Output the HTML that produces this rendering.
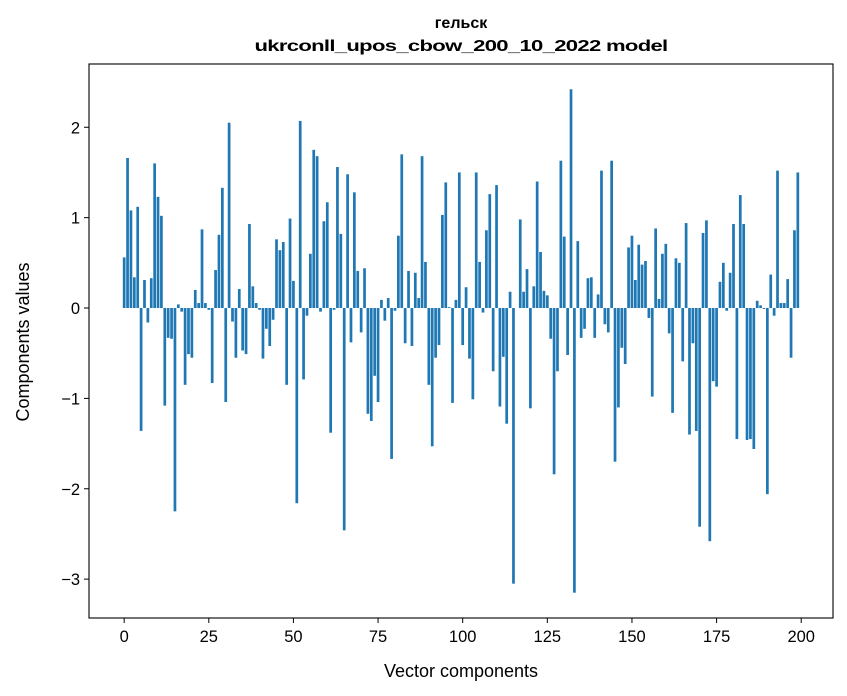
<!DOCTYPE html>
<html><head><meta charset="utf-8"><style>
html,body{margin:0;padding:0;background:#fff;}
svg{display:block;font-family:"Liberation Sans","DejaVu Sans",sans-serif;}
</style></head><body>
<svg id="chart" width="847" height="696" viewBox="0 0 847 696">
<rect width="847" height="696" fill="#fff"/>
<text x="461" y="28" text-anchor="middle" font-size="16" font-weight="bold">гельск</text>
<text x="461" y="51" text-anchor="middle" font-size="16" font-weight="bold" textLength="413" lengthAdjust="spacingAndGlyphs" style="letter-spacing:-0.5px">ukrconll_upos_cbow_200_10_2022 model</text>
<g id="bars"></g>
<g id="xticks"></g>
<g id="yticks"></g>
<rect x="89" y="64" width="744" height="554" fill="none" stroke="#000" stroke-width="1.1"/>
<text x="461" y="677" text-anchor="middle" font-size="18">Vector components</text>
<text transform="translate(29,342) rotate(-90)" text-anchor="middle" font-size="18">Components values</text>
</svg>
<script>
const values = [0.56,1.66,1.08,0.34,1.12,-1.36,0.31,-0.16,0.33,1.60,1.23,1.02,-1.08,-0.33,-0.34,-2.25,0.04,-0.04,-0.85,-0.51,
-0.55,0.20,0.055,0.87,0.055,-0.02,-0.83,0.42,0.81,1.33,-1.04,2.05,-0.15,-0.55,0.21,-0.47,-0.51,0.93,0.24,0.055,
-0.02,-0.56,-0.23,-0.42,-0.13,0.76,0.64,0.73,-0.85,0.99,0.30,-2.16,2.07,-0.79,-0.085,0.60,1.75,1.68,-0.04,0.96,
1.17,-1.38,-0.02,1.56,0.82,-2.46,1.48,-0.38,1.28,0.41,-0.27,0.44,-1.17,-1.25,-0.75,-1.04,0.09,-0.14,0.11,-1.67,
-0.03,0.80,1.70,-0.39,0.41,-0.42,0.39,0.11,1.68,0.51,-0.85,-1.53,-0.55,-0.41,1.03,1.39,0.01,-1.05,0.09,1.50,
-0.41,0.23,-0.56,-1.01,1.50,0.51,-0.05,0.86,1.26,-0.70,1.36,-1.09,-0.54,-1.28,0.18,-3.05,0.0,0.98,0.18,0.43,
-1.11,0.24,1.40,0.62,0.19,0.14,-0.34,-1.84,-0.70,1.63,0.79,-0.52,2.42,-3.15,0.74,-0.33,-0.23,0.33,0.34,-0.33,
0.15,1.52,-0.18,-0.27,1.63,-1.70,-1.10,-0.44,-0.62,0.67,0.80,0.31,0.70,0.48,0.52,-0.11,-0.98,0.88,0.10,0.60,
0.71,-0.28,-1.16,0.55,0.50,-0.59,0.94,-1.40,-0.39,-1.36,-2.42,0.83,0.97,-2.58,-0.81,-0.87,0.29,0.50,-0.03,0.39,
0.93,-1.45,1.25,0.93,-1.46,-1.45,-1.56,0.08,0.03,-0.01,-2.06,0.37,-0.085,1.52,0.055,0.055,0.32,-0.55,0.86,1.50];
const xTicks = [0,25,50,75,100,125,150,175,200];
const yTicks = [-3,-2,-1,0,1,2];
const yTickLabels = ["\u22123","\u22122","\u22121","0","1","2"];

const NS = "http://www.w3.org/2000/svg";
const PL = 89, PR = 833, PT = 64, PB = 618;
const xMin = -10.39, xMax = 209.39, yMin = -3.43, yMax = 2.70;
const xs = v => PL + (v - xMin) / (xMax - xMin) * (PR - PL);
const ys = v => PB - (v - yMin) / (yMax - yMin) * (PB - PT);

const gb = document.getElementById('bars');
values.forEach((v, i) => {
  const r = document.createElementNS(NS, 'rect');
  const x0 = xs(i - 0.4), x1 = xs(i + 0.4);
  const y0 = ys(Math.max(v, 0)), y1 = ys(Math.min(v, 0));
  r.setAttribute('x', x0);
  r.setAttribute('width', x1 - x0);
  r.setAttribute('y', y0);
  r.setAttribute('height', Math.max(y1 - y0, 0));
  r.setAttribute('fill', '#1f77b4');
  
  
  gb.appendChild(r);
});

const gx = document.getElementById('xticks');
xTicks.forEach(t => {
  const x = xs(t);
  const l = document.createElementNS(NS, 'line');
  l.setAttribute('x1', x); l.setAttribute('x2', x);
  l.setAttribute('y1', PB); l.setAttribute('y2', PB + 5);
  l.setAttribute('stroke', '#000');
  
  
  gx.appendChild(l);
  const tx = document.createElementNS(NS, 'text');
  tx.setAttribute('x', x); tx.setAttribute('y', PB + 24);
  tx.setAttribute('text-anchor', 'middle');
  tx.setAttribute('font-size', '16.5');
  tx.textContent = String(t);
  
  
  gx.appendChild(tx);
});

const gy = document.getElementById('yticks');
yTicks.forEach((t, k) => {
  const y = ys(t);
  const l = document.createElementNS(NS, 'line');
  l.setAttribute('x1', PL - 5); l.setAttribute('x2', PL);
  l.setAttribute('y1', y); l.setAttribute('y2', y);
  l.setAttribute('stroke', '#000');
  
  
  gy.appendChild(l);
  const tx = document.createElementNS(NS, 'text');
  tx.setAttribute('x', PL - 9); tx.setAttribute('y', y + 6);
  tx.setAttribute('text-anchor', 'end');
  tx.setAttribute('font-size', '16.5');
  tx.textContent = yTickLabels[k];
  
  
  gy.appendChild(tx);
});
</script>
</body></html>
